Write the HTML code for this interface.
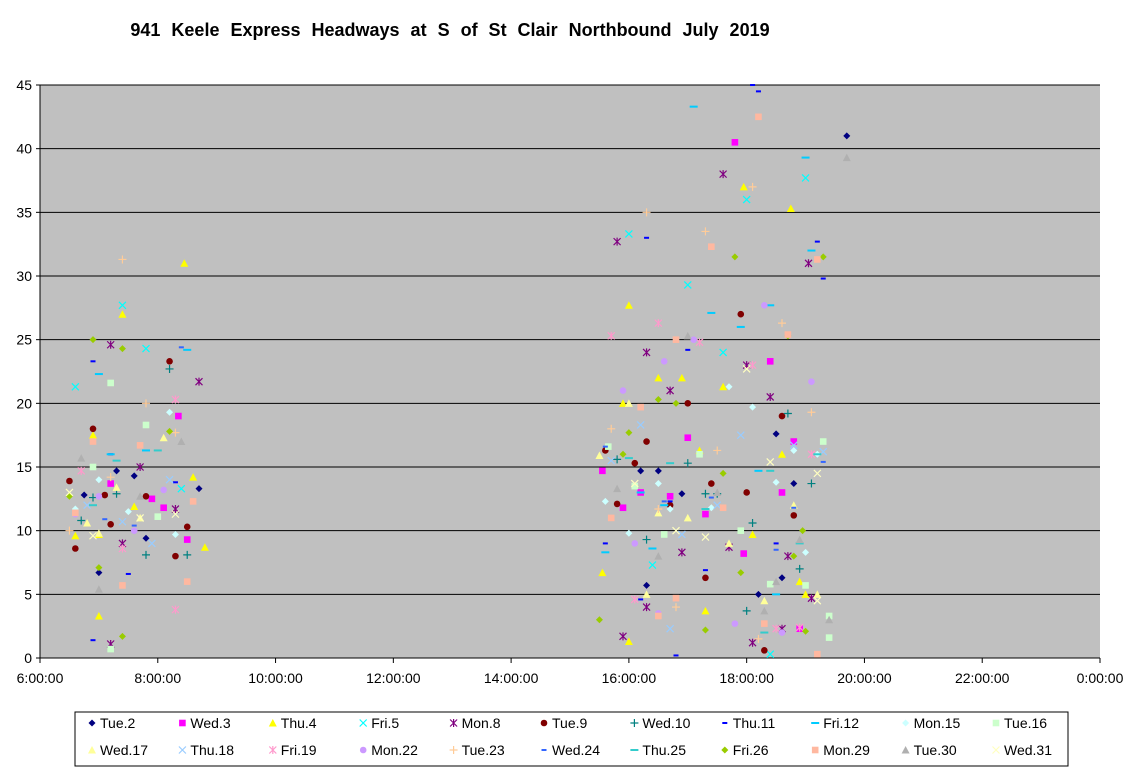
<!DOCTYPE html>
<html><head><meta charset="utf-8"><style>
body{margin:0;background:#fff;}
svg{display:block;font-family:"Liberation Sans",Arial,sans-serif;}
</style></head><body>
<svg id="chart" width="1131" height="778" viewBox="0 0 1131 778" xmlns="http://www.w3.org/2000/svg">
<rect width="1131" height="778" fill="#fff"/>
<text x="450" y="36" text-anchor="middle" font-size="18" font-weight="bold" word-spacing="6">941 Keele Express Headways at S of St Clair Northbound July 2019</text>
<g id="plot"></g>
<g id="legend"></g>
</svg>
<script>
const yTicks=[0,5,10,15,20,25,30,35,40,45];
const xTicks=[6,8,10,12,14,16,18,20,22,24];
const xTickLabels=["6:00:00","8:00:00","10:00:00","12:00:00","14:00:00","16:00:00","18:00:00","20:00:00","22:00:00","0:00:00"];
const seriesNames=["Tue.2","Wed.3","Thu.4","Fri.5","Mon.8","Tue.9","Wed.10","Thu.11","Fri.12","Mon.15","Tue.16","Wed.17","Thu.18","Fri.19","Mon.22","Tue.23","Wed.24","Thu.25","Fri.26","Mon.29","Tue.30","Wed.31"];
const tue2=[[6.75,12.8],[7.0,6.7],[7.3,14.7],[7.6,14.3],[7.8,9.4],[8.7,13.3],[16.3,5.7],[16.2,14.7],[16.5,14.7],[16.9,12.9],[18.2,5],[18.5,17.6],[18.6,6.3],[18.8,13.7],[19.7,41]];
const wed3=[[7.2,13.7],[7.9,12.5],[8.1,11.8],[8.35,19],[8.5,9.3],[15.55,14.7],[15.9,11.8],[16.2,13],[16.7,12.7],[17,17.3],[17.3,11.3],[17.8,40.5],[17.95,8.2],[18.4,23.3],[18.6,13],[18.8,17],[18.9,2.3]];
const thu4=[[6.9,17.5],[7.0,3.3],[7.0,9.7],[7.4,27],[7.6,11.9],[8.45,31],[8.6,14.2],[8.8,8.7],[6.6,9.6],[15.55,6.7],[15.9,20],[16.0,27.7],[16.0,1.3],[16.5,22],[16.9,22],[17.2,16.3],[17.3,3.7],[17.6,21.3],[17.95,37],[18.1,9.7],[18.6,16],[18.75,35.3],[18.9,6],[19.0,5]];
const fri5=[[6.6,21.3],[7.4,27.7],[7.8,24.3],[16.0,33.3],[16.4,7.3],[17.0,29.3],[17.6,24],[18.0,36],[18.4,0.3],[19.0,37.7],[8.4,13.3]];
const mon8=[[7.2,24.6],[7.2,1.1],[7.4,9],[7.7,15],[8.3,11.7],[8.7,21.7],[15.8,32.7],[15.9,1.7],[16.3,24],[16.3,4],[16.7,21],[16.9,8.3],[17.6,38],[17.7,8.7],[18.0,23],[18.4,20.5],[18.6,2.3],[18.7,8],[19.05,31],[19.1,4.7],[18.1,1.2]];
const tue9=[[6.5,13.9],[6.6,8.6],[6.9,18],[7.1,12.8],[7.2,10.5],[7.8,12.7],[8.2,23.3],[8.3,8],[8.5,10.3],[15.6,16.3],[15.8,12.1],[16.3,17],[16.7,12],[17.0,20],[17.4,13.7],[17.9,27],[18.0,13],[18.3,0.6],[18.6,19],[18.8,11.2],[16.1,15.3],[17.3,6.3]];
const wed10=[[6.7,10.8],[6.9,12.6],[7.3,12.9],[7.8,8.1],[8.2,22.7],[8.5,8.1],[15.8,15.6],[16.3,9.3],[17.0,15.3],[17.3,12.9],[17.5,12.9],[18.0,3.7],[18.1,10.6],[18.7,19.2],[19.1,13.7],[18.9,7]];
const thu11=[[6.9,23.3],[6.9,1.4],[7.2,16],[7.5,6.6],[8.3,13.8],[15.6,9],[16.3,33],[16.2,4.6],[16.8,0.2],[17.0,24.2],[17.3,6.9],[18.1,45],[18.2,44.5],[18.5,9],[19.2,32.7],[19.3,29.8],[16.7,12.3]];
const fri12=[[7.0,22.3],[7.2,16],[7.8,16.3],[8.5,24.2],[15.6,8.3],[16.2,13],[16.4,8.6],[17.1,43.3],[17.4,27.1],[17.9,26],[18.2,14.7],[18.4,27.7],[18.5,5],[19.0,39.3],[19.1,32],[16.6,12]];
const mon15=[[6.6,11.7],[7.0,14],[7.5,11.5],[8.2,19.3],[8.3,9.7],[15.6,12.3],[16.0,9.8],[16.7,11.7],[17.4,11.8],[17.7,21.3],[18.1,19.7],[18.5,13.8],[18.8,16.3],[19.0,8.3],[19.2,16],[16.5,13.7]];
const tue16=[[6.9,15],[7.2,21.6],[7.2,0.7],[7.8,18.3],[8.0,11.1],[15.65,16.6],[16.1,13.5],[16.6,9.7],[17.2,16],[17.9,10],[18.4,5.8],[19.0,5.7],[19.3,17],[19.4,3.3],[19.4,1.6]];
const wed17=[[6.8,10.6],[7.0,9.8],[7.3,13.4],[7.7,11],[8.1,17.3],[15.5,15.9],[16.0,20],[16.5,11.4],[17.0,11],[17.7,9],[18.3,4.5],[18.8,12],[19.2,5],[16.3,5]];
const thu18=[[6.8,12],[7.4,10.7],[7.9,9],[8.2,14],[15.7,15.5],[16.2,18.3],[16.9,9.7],[17.5,12],[17.9,17.5],[18.8,16.7],[19.3,16.2],[16.7,2.3]];
const fri19=[[6.7,14.7],[7.4,8.6],[8.3,3.8],[8.3,20.3],[15.7,25.3],[16.1,4.6],[16.5,26.3],[17.2,24.8],[18.1,23],[18.5,2.3],[18.9,2.4],[19.1,16]];
const mon22=[[6.6,11.3],[7.0,12.7],[7.6,10],[8.1,13.2],[15.9,21],[16.1,9],[16.6,23.3],[17.1,25],[17.8,2.7],[18.3,27.7],[19.1,21.7],[18.6,2],[16.5,3.5]];
const tue23=[[6.5,10],[7.2,14.2],[7.4,31.3],[7.8,20],[8.3,17.7],[15.7,18],[16.3,35],[16.5,11.7],[17.3,33.5],[17.5,16.3],[18.1,37],[18.6,26.3],[19.1,19.3],[18.2,1.5],[16.8,4]];
const wed24=[[7.1,10.9],[7.6,10.4],[8.4,24.4],[15.6,16.6],[16.6,12.3],[17.4,12.6],[18.5,8.5],[18.8,11.8],[19.3,15.4]];
const thu25=[[6.9,12],[7.3,15.5],[8.0,16.3],[16.0,15.7],[16.7,15.3],[17.3,11.7],[18.3,2],[18.4,14.7],[18.9,9],[19.2,16]];
const fri26=[[6.5,12.7],[6.9,25],[7.0,7.1],[7.4,24.3],[7.4,1.7],[8.2,17.8],[15.5,3],[15.9,16],[16.0,17.7],[16.5,20.3],[16.8,20],[17.3,2.2],[17.6,14.5],[17.8,31.5],[17.9,6.7],[18.7,25.3],[18.8,8],[18.95,10],[19.0,2.1],[19.3,31.5]];
const mon29=[[6.6,11.4],[6.9,17],[7.4,5.7],[7.7,16.7],[8.5,6],[8.6,12.3],[15.7,11],[16.2,19.7],[16.5,3.3],[16.8,25],[16.8,4.7],[17.4,32.3],[17.6,11.8],[18.2,42.5],[18.7,25.4],[19.2,31.3],[19.2,0.3],[18.3,2.7]];
const tue30=[[6.7,15.7],[7.0,5.4],[7.7,12.7],[8.4,17],[15.8,13.3],[16.5,8],[17.0,25.3],[17.5,13],[18.5,6],[18.9,9.3],[19.7,39.3],[19.4,3],[18.3,3.7]];
const wed31=[[6.5,13],[6.9,9.6],[7.7,11],[8.3,11.3],[16.1,13.7],[16.8,10],[17.3,9.5],[18.0,22.7],[18.4,15.4],[19.2,14.5],[19.2,4.5]];
const allSeries=[tue2,wed3,thu4,fri5,mon8,tue9,wed10,thu11,fri12,mon15,tue16,wed17,thu18,fri19,mon22,tue23,wed24,thu25,fri26,mon29,tue30,wed31];

const styles=[["diamond","#000080"],["square","#FF00FF"],["triangle","#FFFF00"],["x","#00FFFF"],["star","#800080"],["circle","#800000"],["plus","#008080"],["dash","#0000FF"],["longdash","#00CCFF"],["diamond","#CCFFFF"],["square","#CCFFCC"],["triangle","#FFFF99"],["x","#99CCFF"],["star","#FF99CC"],["circle","#CC99FF"],["plus","#FFCC99"],["dash","#3366FF"],["longdash","#33CCCC"],["diamond","#99CC00"],["square","#FFB8A0"],["triangle","#B0B0B0"],["x","#FFFFC0"]];

const NS="http://www.w3.org/2000/svg";
const X0=40,X1=1100,Y0=658,Y1=85;
const xs=t=>X0+(t-6)/18*(X1-X0);
const ys=v=>Y0-v/45*(Y0-Y1);
function mk(tag,attrs,parent){const e=document.createElementNS(NS,tag);for(const k in attrs)e.setAttribute(k,attrs[k]);parent.appendChild(e);return e;}
function marker(type,col,x,y,parent){
  const g=mk("g",{},parent);
  const s=3.5;
  if(type==="diamond")mk("polygon",{points:`${x},${y-s} ${x+s},${y} ${x},${y+s} ${x-s},${y}`,fill:col},g);
  else if(type==="square")mk("rect",{x:x-3.3,y:y-3.3,width:6.6,height:6.6,fill:col},g);
  else if(type==="triangle")mk("polygon",{points:`${x},${y-4} ${x+4},${y+3.5} ${x-4},${y+3.5}`,fill:col},g);
  else if(type==="circle")mk("circle",{cx:x,cy:y,r:3.3,fill:col},g);
  else if(type==="x"){mk("path",{d:`M${x-3.5},${y-3.5}L${x+3.5},${y+3.5}M${x-3.5},${y+3.5}L${x+3.5},${y-3.5}`,stroke:col,"stroke-width":1.2},g);}
  else if(type==="star"){mk("path",{d:`M${x-3.5},${y-3.5}L${x+3.5},${y+3.5}M${x-3.5},${y+3.5}L${x+3.5},${y-3.5}M${x},${y-4}L${x},${y+4}`,stroke:col,"stroke-width":1.2},g);}
  else if(type==="plus"){mk("path",{d:`M${x-4},${y}L${x+4},${y}M${x},${y-4}L${x},${y+4}`,stroke:col,"stroke-width":1.2},g);}
  else if(type==="dash")mk("rect",{x:x-2.5,y:y-1,width:5,height:2,fill:col},g);
  else if(type==="longdash")mk("rect",{x:x-4,y:y-1,width:8,height:2,fill:col},g);
  return g;
}
const plot=document.getElementById("plot");
const bg=mk("rect",{x:X0,y:Y1,width:X1-X0,height:Y0-Y1,fill:"#C0C0C0"},plot);


yTicks.forEach(v=>{
  if(v>0){const l=mk("line",{x1:X0,x2:X1,y1:ys(v),y2:ys(v),stroke:"#000","stroke-width":1},plot);
  
  }
  mk("line",{x1:X0-4,x2:X0,y1:ys(v),y2:ys(v),stroke:"#000"},plot);
  const t=mk("text",{x:X0-8,y:ys(v)+5,"text-anchor":"end","font-size":"14"},plot);t.textContent=v;
  
  
});
mk("line",{x1:X0,x2:X0,y1:Y1,y2:Y0,stroke:"#000"},plot);
mk("line",{x1:X0,x2:X1,y1:Y0,y2:Y0,stroke:"#000"},plot);
xTicks.forEach((h,i)=>{
  mk("line",{x1:xs(h),x2:xs(h),y1:Y0,y2:Y0+5,stroke:"#000"},plot);
  const t=mk("text",{x:xs(h),y:Y0+25,"text-anchor":"middle","font-size":"14"},plot);t.textContent=xTickLabels[i];
  
  
});
allSeries.forEach((data,si)=>{
  const g=mk("g",{},plot);
  
  
  data.forEach(p=>{
    const m=marker(styles[si][0],styles[si][1],xs(p[0]),ys(p[1]),g);
    
    
  });
});
const lg=document.getElementById("legend");


mk("rect",{x:75,y:712,width:993,height:54,fill:"#fff",stroke:"#000","stroke-width":1},lg);
seriesNames.forEach((n,i)=>{
  const row=Math.floor(i/11),col=i%11;
  const x=92+col*90.4,y=723+row*27;
  const g=mk("g",{},lg);
  
  
  marker(styles[i][0],styles[i][1],x,y,g);
  const t=mk("text",{x:x+8,y:y+5,"font-size":"14"},g);t.textContent=n;
});
</script>
</body></html>
